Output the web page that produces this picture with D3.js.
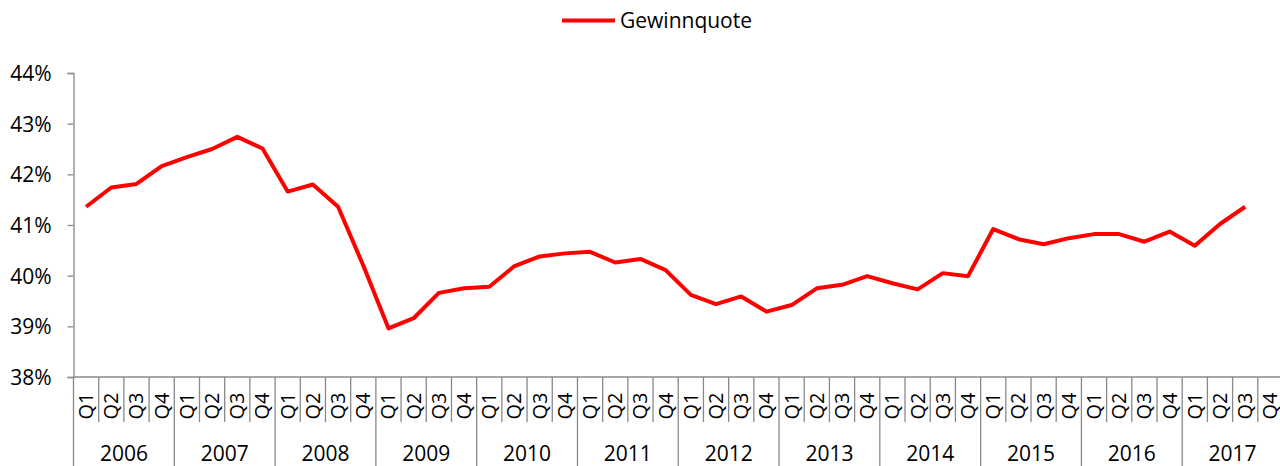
<!DOCTYPE html>
<html>
<head>
<meta charset="utf-8">
<script src="https://cdn.jsdelivr.net/npm/d3@7"></script>
<style>
  html, body { margin: 0; padding: 0; background: #fff; }
  svg { display: block; }
  text { font-family: "Open Sans", "Noto Sans", sans-serif; fill: #000; }
</style>
</head>
<body>
<svg id="chart" width="1280" height="466"></svg>
<script>
const seriesName = "Gewinnquote";
const years = ["2006","2007","2008","2009","2010","2011","2012","2013","2014","2015","2016","2017"];
const quarters = ["Q1","Q2","Q3","Q4"];
const values = [
  41.36, 41.74, 41.81, 42.16,
  42.34, 42.50, 42.74, 42.51,
  41.66, 41.80, 41.36, 40.20,
  38.96, 39.16, 39.66, 39.75,
  39.78, 40.19, 40.38, 40.44,
  40.47, 40.26, 40.33, 40.11,
  39.62, 39.44, 39.59, 39.29,
  39.42, 39.75, 39.82, 39.99,
  39.85, 39.73, 40.05, 39.99,
  40.92, 40.72, 40.62, 40.74,
  40.82, 40.82, 40.67, 40.87,
  40.59, 41.02, 41.36
];
const yTicks = [38, 39, 40, 41, 42, 43, 44];

const categories = [];
years.forEach(y => quarters.forEach(q => categories.push(y + " " + q)));

const svg = d3.select("#chart");
const axisColor = "#898989";

const plotLeft = 73.5, plotRight = 1283, plotTop = 73, plotBottom = 377;

const x = d3.scaleBand().domain(categories).range([plotLeft, plotRight]).padding(0);
const yearScale = d3.scaleBand().domain(years).range([plotLeft, plotRight]).padding(0);
const y = d3.scaleLinear().domain([38, 44]).range([plotBottom, plotTop]);

// Y axis
const yAxis = svg.append("g")
  .attr("transform", `translate(${plotLeft},0)`)
  .call(d3.axisLeft(y).tickValues(yTicks).tickSize(6).tickPadding(16).tickFormat(d => d + "%"));
yAxis.select(".domain").attr("stroke", axisColor).attr("stroke-width", 1.3);
yAxis.selectAll(".tick line").attr("stroke", axisColor).attr("stroke-width", 1.3);
yAxis.selectAll(".tick text").style("font-size", "21px").style("font-family", "'Open Sans', sans-serif").attr("fill", "#000").attr("dy", "0.35em");

// X axis baseline
const xg = svg.append("g");
xg.append("line")
  .attr("x1", plotLeft).attr("x2", 1280)
  .attr("y1", plotBottom).attr("y2", plotBottom)
  .attr("stroke", axisColor).attr("stroke-width", 1.3);

// Quarter separators
categories.forEach((c, i) => {
  if (i % 4 !== 0) {
    xg.append("line")
      .attr("x1", x(c)).attr("x2", x(c))
      .attr("y1", plotBottom).attr("y2", 422)
      .attr("stroke", axisColor).attr("stroke-width", 1.3);
  }
});
// Year separators
years.concat(["end"]).forEach(yr => {
  const xp = yr === "end" ? plotRight : yearScale(yr);
  xg.append("line")
    .attr("x1", xp).attr("x2", xp)
    .attr("y1", plotBottom).attr("y2", 466)
    .attr("stroke", axisColor).attr("stroke-width", 1.3);
});

// Quarter labels (rotated)
categories.forEach(c => {
  const q = c.split(" ")[1];
  const cx = x(c) + x.bandwidth() / 2;
  xg.append("text")
    .attr("transform", `translate(${cx},406) rotate(-90)`)
    .attr("text-anchor", "middle")
    .attr("dy", "0.35em")
    .style("font-size", "20px")
    .text(q);
});

// Year labels
years.forEach(yr => {
  xg.append("text")
    .attr("x", yearScale(yr) + yearScale.bandwidth() / 2)
    .attr("y", 461)
    .attr("text-anchor", "middle")
    .style("font-size", "21px")
    .text(yr);
});

// Line
const line = d3.line()
  .x((d, i) => x(categories[i]) + x.bandwidth() / 2)
  .y(d => y(d));

svg.append("path")
  .datum(values)
  .attr("fill", "none")
  .attr("stroke", "#ff0000")
  .attr("stroke-width", 4)
  .attr("stroke-linejoin", "round")
  .attr("d", line);

// Legend
const lg = svg.append("g");
lg.append("line")
  .attr("x1", 562).attr("x2", 615)
  .attr("y1", 20.5).attr("y2", 20.5)
  .attr("stroke", "#ff0000").attr("stroke-width", 4);
lg.append("text")
  .attr("x", 620).attr("y", 20.5)
  .attr("dy", "0.35em")
  .style("font-size", "21px")
  .text(seriesName);
</script>
</body>
</html>
